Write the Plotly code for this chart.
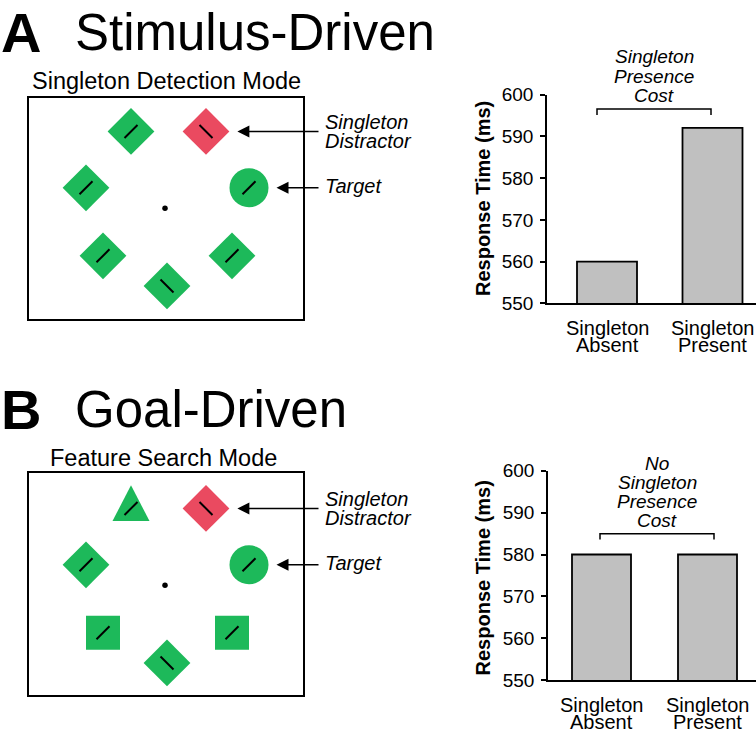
import plotly.graph_objects as go

W, H = 756, 741
FONT = "Liberation Sans, Arial, Helvetica, sans-serif"
GREEN = "#1db95a"
RED = "#ea4a60"
GRAY = "#c0c0c0"

# ---------------- data ----------------
cat_top = ["Singleton", "Singleton"]
cat_bottom = ["Absent", "Present"]
rt_stimulus_driven = [560, 592]
rt_goal_driven = [580, 580]
rt_ticks = [550, 560, 570, 580, 590, 600]
rt_range = [550, 600]

# search-display items (position relative to fixation, display units)
item_x = [-34, 41, -79, 84, -62, 67, 2]
item_y = [79, 79, 21, 21, -49, -49, -80]
item_shape_A = ["diamond", "diamond", "diamond", "circle", "diamond", "diamond", "diamond"]
item_shape_B = ["triangle", "diamond", "diamond", "circle", "square", "square", "diamond"]
item_color = ["green", "red", "green", "green", "green", "green", "green"]
item_tilt = ["/", "\\", "/", "/", "/", "/", "\\"]
item_label = [None, ["Singleton", "Distractor"], None, ["Target"], None, None, None]

# ---------------- style / layout constants ----------------
SIZE = {"diamond": 36, "circle": 39, "square": 34}
HALFW = {"diamond": 23.4, "circle": 19.5, "square": 17, "triangle": 18.5}
COLOR = {"green": GREEN, "red": RED}


def px(x):
    return x / W


def py(y):
    return 1 - y / H


panels = [
    dict(letter="A", title="Stimulus-Driven", mode="Singleton Detection Mode", mode_x=166,
         shapes=item_shape_A, rt=rt_stimulus_driven, cost=["Singleton", "Presence", "Cost"],
         title_y=23, mode_y=73.5, box=(29, 91, 303, 318), fix=(165, 204),
         bx0=547, y550=302, y600=87, c0=607, sp=105.5, bw=60,
         cat_y=(327, 345), ytitle_y=193.5, cost_y=[48.3, 68.3, 88],
         bracket=(597, 711, 102, 108), xd="x3", yd="y3", xb="x", yb="y"),
    dict(letter="B", title="Goal-Driven", mode="Feature Search Mode", mode_x=163,
         shapes=item_shape_B, rt=rt_goal_driven, cost=["No", "Singleton", "Presence", "Cost"],
         title_y=411.5, mode_y=461, box=(29, 477, 303, 705), fix=(165, 592),
         bx0=548, y550=690, y600=474, c0=601.5, sp=106, bw=59,
         cat_y=(715, 733), ytitle_y=584, cost_y=[466.5, 486, 505.5, 525],
         bracket=(600, 714, 539, 545), xd="x4", yd="y4", xb="x2", yb="y2"),
]

fig = go.Figure()
annotations = []
shapes = []
layout_axes = {}

for p in panels:
    xd, yd, xb, yb = p["xd"], p["yd"], p["xb"], p["yb"]
    # ---------- search display ----------
    idx = [i for i, s in enumerate(p["shapes"]) if s != "triangle"]
    fig.add_trace(go.Scatter(
        x=[item_x[i] for i in idx], y=[item_y[i] for i in idx], mode="markers",
        marker=dict(symbol=[p["shapes"][i] for i in idx],
                    size=[SIZE[p["shapes"][i]] for i in idx], opacity=1,
                    color=[COLOR[item_color[i]] for i in idx], line=dict(width=0)),
        xaxis=xd, yaxis=yd, hoverinfo="skip", showlegend=False))
    for i, s in enumerate(p["shapes"]):
        if s == "triangle":
            cx, cy, hw = item_x[i], item_y[i], HALFW["triangle"]
            fig.add_trace(go.Scatter(
                x=[cx - hw, cx + hw, cx, cx - hw], y=[cy - 13, cy - 13, cy + 24, cy - 13],
                mode="lines", fill="toself", fillcolor=COLOR[item_color[i]],
                line=dict(width=0, color=COLOR[item_color[i]]),
                xaxis=xd, yaxis=yd, hoverinfo="skip", showlegend=False))
    fig.add_trace(go.Scatter(
        x=item_x, y=item_y, mode="markers",
        marker=dict(symbol=["line-ne" if t == "/" else "line-nw" for t in item_tilt],
                    size=13, opacity=1, color="black", line=dict(width=2, color="black")),
        xaxis=xd, yaxis=yd, hoverinfo="skip", showlegend=False))
    fig.add_trace(go.Scatter(
        x=[0], y=[0], mode="markers", marker=dict(size=5.5, color="black", opacity=1),
        xaxis=xd, yaxis=yd, hoverinfo="skip", showlegend=False))

    bl, bt, br, bb = p["box"]
    fxp, fyp = p["fix"]
    n = xd[1:]
    layout_axes["xaxis" + n] = dict(domain=[px(bl), px(br)], range=[bl - fxp, br - fxp],
                                    anchor=yd, showline=True, mirror=True, linecolor="black",
                                    linewidth=2, showgrid=False, zeroline=False,
                                    showticklabels=False, ticks="", fixedrange=True)
    layout_axes["yaxis" + n] = dict(domain=[py(bb), py(bt)], range=[fyp - bb, fyp - bt],
                                    anchor=xd, showline=True, mirror=True, linecolor="black",
                                    linewidth=2, showgrid=False, zeroline=False,
                                    showticklabels=False, ticks="", fixedrange=True)

    # arrows + labels
    for i, lab in enumerate(item_label):
        if lab is None:
            continue
        tip = item_x[i] + HALFW[p["shapes"][i]] + 8
        annotations.append(dict(x=tip, y=item_y[i], xref=xd, yref=yd, ax=155, ay=item_y[i],
                                axref=xd, ayref=yd, text="", showarrow=True, arrowhead=2,
                                arrowsize=1.6, arrowwidth=1.5, arrowcolor="black", standoff=0))
        offs = [10, -10] if len(lab) == 2 else [2]
        for t, o in zip(lab, offs):
            annotations.append(dict(x=px(323), y=item_y[i] + o, xref="paper", yref=yd,
                                    text=t, showarrow=False, xanchor="left", yanchor="middle",
                                    font=dict(family=FONT, size=20, style="italic", color="black")))

    # titles
    annotations.append(dict(x=px(-1), y=py(p["title_y"]), xref="paper", yref="paper",
                            text="<b>" + p["letter"] + "</b>", showarrow=False,
                            xanchor="left", yanchor="middle",
                            font=dict(family=FONT, size=56, color="black")))
    annotations.append(dict(x=px(73), y=py(p["title_y"]), xref="paper", yref="paper",
                            text=p["title"], showarrow=False, xanchor="left", yanchor="middle",
                            font=dict(family=FONT, size=51, color="black")))
    annotations.append(dict(x=px(p["mode_x"]), y=py(p["mode_y"]), xref="paper", yref="paper",
                            text=p["mode"], showarrow=False, xanchor="center", yanchor="middle",
                            font=dict(family=FONT, size=23.5, color="black")))

    # ---------- bar chart ----------
    pos = [0, 1]
    fig.add_trace(go.Bar(x=pos, y=p["rt"], width=p["bw"] / p["sp"],
                         marker=dict(color=GRAY, line=dict(color="black", width=1.8)),
                         xaxis=xb, yaxis=yb, hoverinfo="skip", showlegend=False))
    nb = xb[1:]
    layout_axes["xaxis" + nb] = dict(domain=[px(p["bx0"]), 1],
                                     range=[(p["bx0"] - p["c0"]) / p["sp"], (W - p["c0"]) / p["sp"]],
                                     anchor=yb, showline=True, linecolor="black", linewidth=1.5,
                                     showgrid=False, zeroline=False, showticklabels=False,
                                     ticks="", fixedrange=True)
    layout_axes["yaxis" + nb] = dict(domain=[py(p["y550"]), py(p["y600"])], range=rt_range,
                                     anchor=xb, showline=True, linecolor="black", linewidth=1.5,
                                     ticks="outside", ticklen=5, tickwidth=1.5, tickcolor="black",
                                     tickvals=rt_ticks, ticklabelstandoff=3,
                                     tickfont=dict(family=FONT, size=19, color="black"),
                                     showgrid=False, zeroline=False, fixedrange=True)
    for k in range(2):
        annotations.append(dict(x=pos[k], y=py(p["cat_y"][0]), xref=xb, yref="paper",
                                text=cat_top[k], showarrow=False, xanchor="center",
                                yanchor="middle", font=dict(family=FONT, size=20, color="black")))
        annotations.append(dict(x=pos[k], y=py(p["cat_y"][1]), xref=xb, yref="paper",
                                text=cat_bottom[k], showarrow=False, xanchor="center",
                                yanchor="middle", font=dict(family=FONT, size=20, color="black")))
    annotations.append(dict(x=px(483), y=py(p["ytitle_y"]), xref="paper", yref="paper",
                            text="<b>Response Time (ms)</b>", textangle=-90, showarrow=False,
                            xanchor="center", yanchor="middle",
                            font=dict(family=FONT, size=20, color="black")))
    x0, x1, ytop, yend = p["bracket"]
    shapes.append(dict(type="path", xref="paper", yref="paper",
                       path=f"M{px(x0)},{py(yend)} L{px(x0)},{py(ytop)} L{px(x1)},{py(ytop)} L{px(x1)},{py(yend)}",
                       line=dict(color="black", width=1.5)))
    for t, yy in zip(p["cost"], p["cost_y"]):
        annotations.append(dict(x=px((x0 + x1) / 2), y=py(yy), xref="paper", yref="paper",
                                text=t, showarrow=False, xanchor="center", yanchor="middle",
                                font=dict(family=FONT, size=19, style="italic", color="black")))

fig.update_layout(
    width=W, height=H, margin=dict(l=0, r=0, t=0, b=0),
    paper_bgcolor="white", plot_bgcolor="white",
    showlegend=False, annotations=annotations, shapes=shapes,
    font=dict(family=FONT, color="black"),
    **layout_axes,
)

fig.write_html("out.html", config={"displayModeBar": False},
               post_script="document.body.style.margin='0px';document.body.style.overflow='hidden';")
